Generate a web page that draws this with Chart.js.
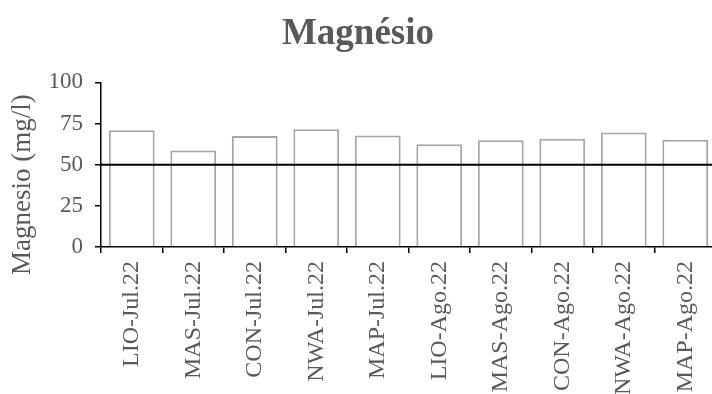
<!DOCTYPE html>
<html>
<head>
<meta charset="utf-8">
<script src="https://cdn.jsdelivr.net/npm/chart.js@4/dist/chart.umd.min.js"></script>
<style>
  html, body { margin: 0; padding: 0; background: #fff; overflow: hidden; }
  #wrap { width: 736px; height: 420px; }
</style>
</head>
<body>
<div id="wrap"><canvas id="c" width="736" height="420"></canvas></div>
<script>
// Sampling points and months
const categories = ['LIO-Jul.22', 'MAS-Jul.22', 'CON-Jul.22', 'NWA-Jul.22', 'MAP-Jul.22',
                    'LIO-Ago.22', 'MAS-Ago.22', 'CON-Ago.22', 'NWA-Ago.22', 'MAP-Ago.22'];
// Magnesium concentration (mg/l)
const magnesio = [71.0, 58.7, 67.4, 71.5, 67.8, 62.4, 64.8, 65.8, 69.6, 65.2];
// Reference limit (mg/l)
const limite = 50;
// Y axis tick values
const yTicks = [0, 25, 50, 75, 100];

const textColor = '#595959';
const serif = "'Liberation Serif', 'Times New Roman', serif";
const yTitle = 'Magnesio (mg/l)';

// Vertical axis title, drawn beside the tick labels
const yTitlePlugin = {
  id: 'yTitle',
  afterDraw(chart) {
    const { ctx, chartArea } = chart;
    ctx.save();
    ctx.translate(23, (chartArea.top + chartArea.bottom) / 2 + 20);
    ctx.rotate(-Math.PI / 2);
    ctx.font = `27px ${serif}`;
    ctx.fillStyle = textColor;
    ctx.textAlign = 'center';
    ctx.textBaseline = 'middle';
    ctx.fillText(yTitle, 0, 0);
    ctx.restore();
  }
};

new Chart(document.getElementById('c'), {
  data: {
    labels: categories,
    datasets: [
      {
        type: 'line',
        xAxisID: 'xLine',
        data: [{ x: 0, y: limite }, { x: 1, y: limite }],
        borderColor: '#000',
        borderWidth: 2,
        pointRadius: 0,
        order: 0
      },
      {
        type: 'bar',
        data: magnesio,
        backgroundColor: '#ffffff',
        borderColor: '#a6a6a6',
        borderWidth: 2,
        grouped: false,
        categoryPercentage: 1,
        barPercentage: 0.745,
        order: 1
      }
    ]
  },
  plugins: [yTitlePlugin],
  options: {
    responsive: false,
    animation: false,
    layout: { padding: { left: 0, right: 20, top: 0, bottom: 0 } },
    plugins: {
      legend: { display: false },
      tooltip: { enabled: false },
      title: {
        display: true,
        text: 'Magnésio',
        color: textColor,
        font: { family: serif, size: 37, weight: 'bold' },
        padding: { top: 12, bottom: 26 }
      }
    },
    scales: {
      x: {
        type: 'category',
        offset: true,
        grid: {
          offset: true,
          drawOnChartArea: false,
          drawTicks: true,
          tickLength: 6,
          color: '#000',
          lineWidth: 1.5
        },
        border: { display: true, color: '#000', width: 1.5 },
        ticks: {
          color: textColor,
          font: { family: serif, size: 24 },
          minRotation: 90,
          maxRotation: 90,
          autoSkip: false,
          padding: 8
        },
        afterFit: (s) => { s.height = 420 - 247; }
      },
      xLine: {
        type: 'linear',
        display: false,
        min: 0,
        max: 1
      },
      y: {
        min: 0,
        max: 100,
        afterBuildTicks: (s) => { s.ticks = yTicks.map(v => ({ value: v })); },
        grid: {
          drawOnChartArea: false,
          drawTicks: true,
          tickLength: 6,
          color: '#000',
          lineWidth: 1.5
        },
        border: { display: true, color: '#000', width: 1.5 },
        ticks: {
          color: textColor,
          font: { family: serif, size: 23 },
          padding: 12
        },
        afterFit: (s) => { s.width = 101; }
      }
    }
  }
});
</script>
</body>
</html>
